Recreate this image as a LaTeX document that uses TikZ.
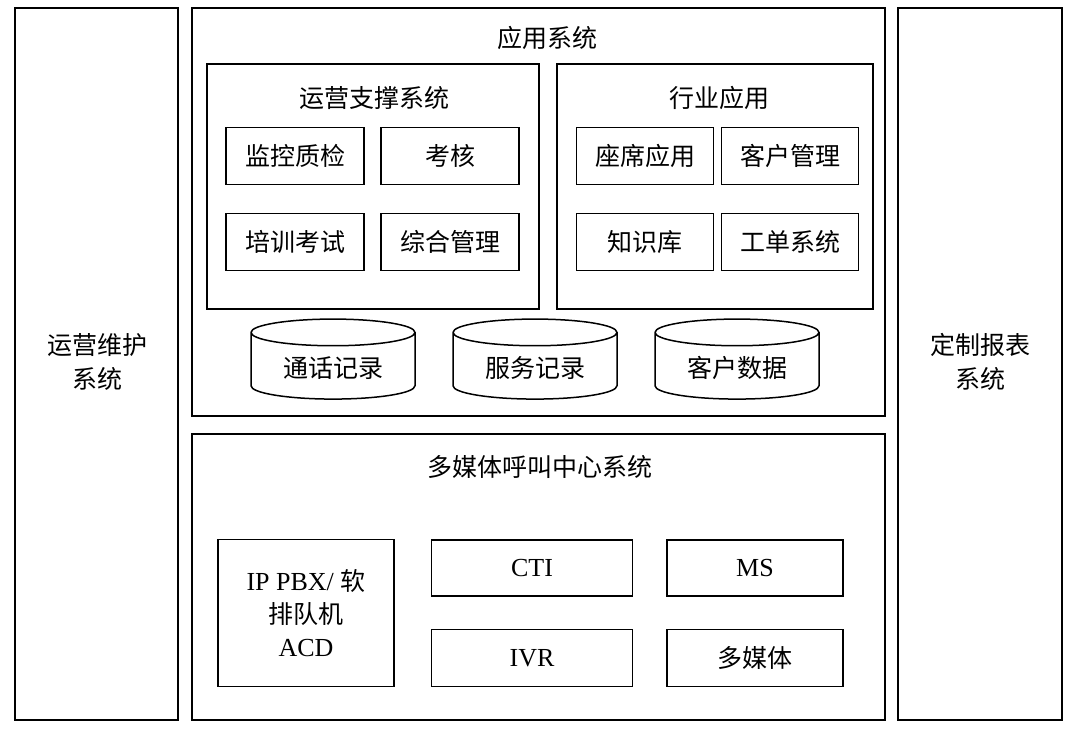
\documentclass[tikz,border=0pt]{standalone}
\usepackage{fontspec}
\setmainfont{Liberation Serif}
\newfontfamily\cjk{Noto Sans CJK SC}
\usetikzlibrary{shapes.geometric}

\tikzset{
  frame/.style={draw, line width=1.7pt},
  item/.style={draw, line width=1.5pt, font=\cjk\fontsize{25}{34}\selectfont},
  db/.style={draw, line width=1.5pt, cylinder, shape border rotate=90, aspect=0.25,
    minimum width=164pt, minimum height=80pt, font=\cjk\fontsize{25}{34}\selectfont},
  title/.style={font=\cjk\fontsize{25}{34}\selectfont, align=center},
  latin/.style={font=\fontsize{26}{33}\selectfont},
}

\begin{document}
\begin{tikzpicture}[x=1pt, y=-1pt]
                \useasboundingbox[fill=white] (0,0) rectangle (1080,730);
                % outer frames
                \draw[frame] (15,8) rectangle (178,720);
                \draw[frame] (898,8) rectangle (1062,720);
                \draw[frame] (192,8) rectangle (885,416);
                \draw[frame] (192,434) rectangle (885,720);
                \draw[frame] (207,64) rectangle (539,309);
                \draw[frame] (557,64) rectangle (873,309);
                \node[title] (ops) at (97,362) {运营维护\\系统};
                \node[title] (rpt) at (980,362) {定制报表\\系统};
                \node[title] (app) at (547,38) {应用系统};
                \node[title] (sup) at (374,98) {运营支撑系统};
                \node[title] (ind) at (719,98) {行业应用};
                \node[title] (mcc) at (540,467) {多媒体呼叫中心系统};
                % operation support
                \node[item, minimum width=138pt, minimum height=57pt] (mon) at (295,156) {监控质检};
                \node[item, minimum width=138pt, minimum height=57pt] (kpi) at (450,156) {考核};
                \node[item, minimum width=138pt, minimum height=57pt] (trn) at (295,242) {培训考试};
                \node[item, minimum width=138pt, minimum height=57pt] (adm) at (450,242) {综合管理};
                % industry applications
                \node[item, minimum width=137pt, minimum height=57pt] (seat) at (645,156) {座席应用};
                \node[item, minimum width=137pt, minimum height=57pt] (crm) at (790,156) {客户管理};
                \node[item, minimum width=137pt, minimum height=57pt] (kb) at (645,242) {知识库};
                \node[item, minimum width=137pt, minimum height=57pt] (wo) at (790,242) {工单系统};
                % data stores
                \node[db] (call) at (333,368) {通话记录};
                \node[db] (svc) at (535,368) {服务记录};
                \node[db] (cust) at (737,368) {客户数据};
                % call center
                \node[item, latin, minimum width=176pt, minimum height=147pt, align=center]
                  (acd) at (306,613) {IP PBX/ {\cjk\fontsize{25}{33}\selectfont 软}\\{\cjk\fontsize{25}{33}\selectfont 排队机}\\ACD};
                \node[item, latin, minimum width=201pt, minimum height=56pt] (cti) at (532,568) {CTI};
                \node[item, latin, minimum width=176pt, minimum height=56pt] (ms) at (755,568) {MS};
                \node[item, latin, minimum width=201pt, minimum height=57pt] (ivr) at (532,658) {IVR};
                \node[item, minimum width=176pt, minimum height=57pt] (mm) at (755,658) {多媒体};
            \end{tikzpicture}
\end{document}
